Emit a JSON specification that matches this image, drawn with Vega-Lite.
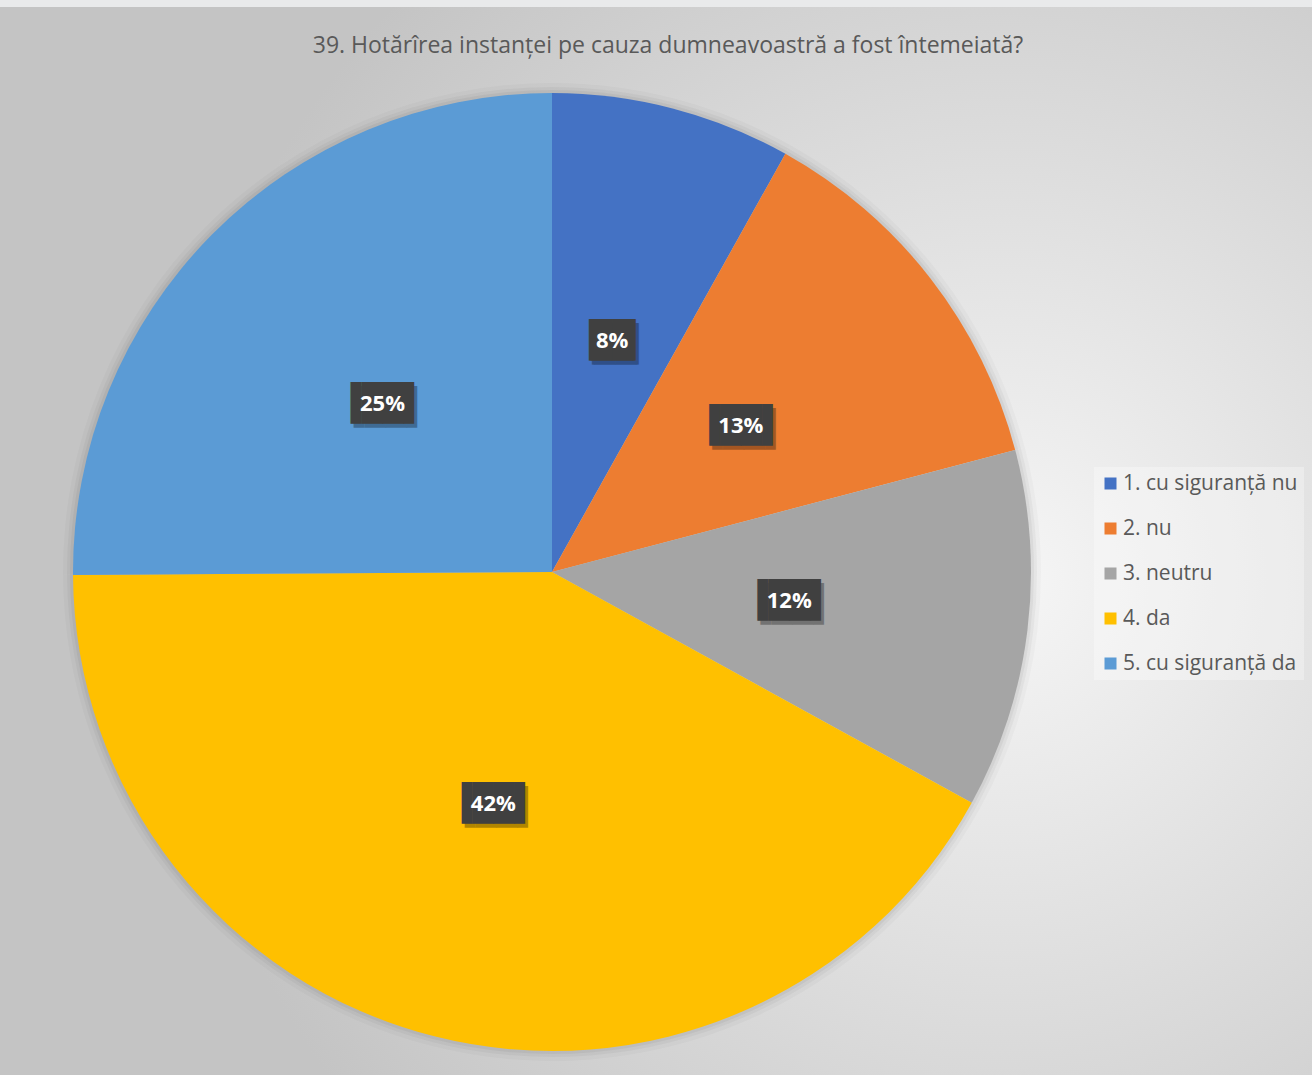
{
  "$schema": "https://vega.github.io/schema/vega-lite/v6.json",
  "width": 1520,
  "height": 1130,
  "autosize": {"type": "none"},
  "padding": {"left": -208, "top": 7, "right": 0, "bottom": -62},
  "background": "#e9eaeb",
  "title": {
    "text": "39. Hotărîrea instanței pe cauza dumneavoastră a fost întemeiată?",
    "font": "Open Sans",
    "fontSize": 23,
    "fontWeight": "normal",
    "color": "#595959",
    "anchor": "middle",
    "dx": 116,
    "offset": -51
  },
  "data": {
    "values": [
      {"cat": "1. cu siguranță nu", "value": 8.1, "label": "8%"},
      {"cat": "2. nu", "value": 12.8, "label": "13%"},
      {"cat": "3. neutru", "value": 12.1, "label": "12%"},
      {"cat": "4. da", "value": 41.9, "label": "42%"},
      {"cat": "5. cu siguranță da", "value": 25.1, "label": "25%"}
    ]
  },
  "layer": [
    {
      "data": {"values": [{"bg": 1}]},
      "mark": {
        "type": "rect",
        "color": {
          "gradient": "radial",
          "x1": 0.795, "y1": 0.505, "r1": 0,
          "x2": 0.795, "y2": 0.505, "r2": 0.55,
          "stops": [
            {"offset": 0, "color": "#f6f6f6"},
            {"offset": 0.4, "color": "#e2e2e2"},
            {"offset": 1, "color": "#c4c4c4"}
          ]
        }
      },
      "encoding": {}
    },
    {
      "mark": {"type": "arc", "outerRadius": 489, "color": "#000000", "opacity": 0.025},
      "encoding": {
        "theta": {"field": "value", "type": "quantitative", "stack": true},
        "order": {"field": "cat", "type": "ordinal"}
      }
    },
    {
      "mark": {"type": "arc", "outerRadius": 485, "color": "#000000", "opacity": 0.035},
      "encoding": {
        "theta": {"field": "value", "type": "quantitative", "stack": true},
        "order": {"field": "cat", "type": "ordinal"}
      }
    },
    {
      "mark": {"type": "arc", "outerRadius": 482, "color": "#000000", "opacity": 0.045},
      "encoding": {
        "theta": {"field": "value", "type": "quantitative", "stack": true},
        "order": {"field": "cat", "type": "ordinal"}
      }
    },
    {
      "mark": {"type": "arc", "outerRadius": 479},
      "encoding": {
        "theta": {"field": "value", "type": "quantitative", "stack": true},
        "order": {"field": "cat", "type": "ordinal"},
        "color": {
          "field": "cat",
          "type": "nominal",
          "scale": {
            "domain": ["1. cu siguranță nu", "2. nu", "3. neutru", "4. da", "5. cu siguranță da"],
            "range": ["#4472C4", "#ED7D31", "#A5A5A5", "#FFC000", "#5B9BD5"]
          },
          "legend": {
            "orient": "none",
            "legendX": 1302,
            "legendY": 460,
            "title": null,
            "symbolType": "square",
            "symbolSize": 144,
            "symbolStrokeWidth": 0,
            "labelFont": "Open Sans",
            "labelFontSize": 21,
            "labelColor": "#595959",
            "labelLimit": 300,
            "rowPadding": 23,
            "labelOffset": 2,
            "padding": 6,
            "fillColor": "rgba(255,255,255,0.3)"
          }
        }
      }
    },
    {
      "mark": {"type": "text", "font": "DejaVu Sans Mono", "fontSize": 35, "align": "center", "baseline": "middle", "color": "#000000", "opacity": 0.3, "dx": 3, "dy": 4},
      "encoding": {
        "theta": {"field": "value", "type": "quantitative", "stack": true},
        "order": {"field": "cat", "type": "ordinal"},
        "radius": {"value": 239},
        "text": {"condition": {"test": "datum.value < 10", "value": "▕██▏"}, "value": "▐██▌"}
      }
    },
    {
      "mark": {"type": "text", "font": "DejaVu Sans Mono", "fontSize": 35, "align": "center", "baseline": "middle", "color": "#404040"},
      "encoding": {
        "theta": {"field": "value", "type": "quantitative", "stack": true},
        "order": {"field": "cat", "type": "ordinal"},
        "radius": {"value": 239},
        "text": {"condition": {"test": "datum.value < 10", "value": "▕██▏"}, "value": "▐██▌"}
      }
    },
    {
      "mark": {"type": "text", "font": "Open Sans", "fontWeight": "bold", "fontSize": 22, "align": "center", "baseline": "middle", "color": "#ffffff"},
      "encoding": {
        "theta": {"field": "value", "type": "quantitative", "stack": true},
        "order": {"field": "cat", "type": "ordinal"},
        "radius": {"value": 239},
        "text": {"field": "label", "type": "nominal"}
      }
    }
  ],
  "config": {
    "view": {"stroke": null}
  }
}
